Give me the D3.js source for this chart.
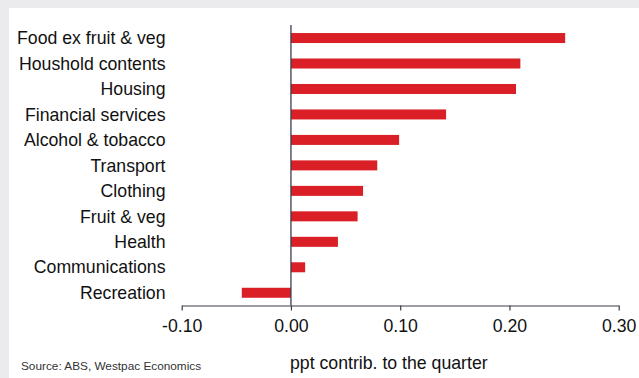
<!DOCTYPE html>
<html><head><meta charset="utf-8">
<script src="https://cdn.jsdelivr.net/npm/d3@7"></script>
<style>
html,body{margin:0;padding:0;background:#ebebed;}
svg{display:block;}
</style></head>
<body>
<script>
const categories = ["Food ex fruit & veg","Houshold contents","Housing","Financial services","Alcohol & tobacco","Transport","Clothing","Fruit & veg","Health","Communications","Recreation"];
const values = [0.251,0.210,0.206,0.142,0.099,0.079,0.066,0.061,0.043,0.013,-0.045];
const tickValues = [-0.10,0.00,0.10,0.20,0.30];
const tickLabels = ["-0.10","0.00","0.10","0.20","0.30"];
const xLabel = "ppt contrib. to the quarter";
const source = "Source: ABS, Westpac Economics";

const W = 639, H = 378;
const svg = d3.select("body").append("svg").attr("width", W).attr("height", H);
svg.append("rect").attr("x", 9).attr("y", 8).attr("width", W - 9).attr("height", H - 8).attr("fill", "#ffffff");

const font = "Arial, 'Liberation Sans', sans-serif";
const fs = 17.7;
const x = d3.scaleLinear().domain([-0.10, 0.30]).range([181.7, 618.7]);
const y = d3.scaleBand().domain(categories).range([25.3, 305.5]).paddingInner(0.6).paddingOuter(0.3);

// bars
svg.append("g").selectAll("rect").data(values).join("rect")
  .attr("x", (d) => x(Math.min(0, d)))
  .attr("width", (d) => Math.abs(x(d) - x(0)))
  .attr("y", (d, i) => y(categories[i]) + y.bandwidth() / 2 - 5)
  .attr("height", 10)
  .attr("fill", "#da1f26");

// vertical zero line
svg.append("line").attr("x1", x(0)).attr("x2", x(0)).attr("y1", 25).attr("y2", 305.5)
  .attr("stroke", "#3a3f4a").attr("stroke-width", 1.3);

// x axis
const xAxis = d3.axisBottom(x).tickValues(tickValues)
  .tickFormat((d, i) => tickLabels[i]).tickSize(5).tickSizeOuter(0);
const gx = svg.append("g").attr("transform", "translate(0,305.5)").call(xAxis);
gx.select(".domain").attr("stroke", "#3a3f4a").attr("stroke-width", 1.2);
gx.selectAll(".tick line").attr("stroke", "#3a3f4a").attr("stroke-width", 1.2);
gx.selectAll(".tick text").attr("font-family", font).attr("font-size", fs).attr("fill", "#111").attr("y", 14).attr("dy", "0.71em");

// category labels
svg.append("g").selectAll("text").data(categories).join("text")
  .attr("x", 165.5)
  .attr("y", (d) => y(d) + y.bandwidth() / 2)
  .attr("dy", "0.35em")
  .attr("text-anchor", "end")
  .attr("font-family", font).attr("font-size", fs).attr("fill", "#111")
  .text((d) => d);

svg.append("text").attr("x", 290).attr("y", 369).attr("font-family", font).attr("font-size", fs).attr("fill", "#111").text(xLabel);
svg.append("text").attr("x", 21).attr("y", 370).attr("font-family", font).attr("font-size", 11.8).attr("fill", "#333").text(source);
</script>
</body></html>
